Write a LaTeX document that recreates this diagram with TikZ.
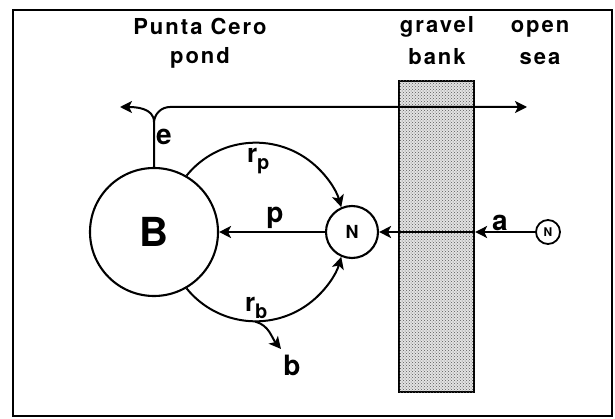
\documentclass[tikz,border=0pt]{standalone}
\usepackage{fontspec}
\setmainfont{TeX Gyre Heros}
\newfontfamily\trackfont[LetterSpace=9]{TeX Gyre Heros}
\usetikzlibrary{arrows.meta, patterns, calc}
\newcommand{\rsub}[1]{r\raisebox{-7pt}{\fontsize{20}{20}\selectfont #1}}

\begin{document}
\begin{tikzpicture}[x=1pt, y=1pt, line width=2pt,
  pool/.style={circle, draw, line width=2.1pt, inner sep=0pt},
  toplbl/.style={anchor=base, inner sep=0pt, font=\trackfont\bfseries\fontsize{22}{26}\selectfont},
  flux/.style={anchor=base, inner sep=0pt, font=\bfseries\fontsize{28}{30}\selectfont},
  rate/.style={anchor=base west, inner sep=0pt, font=\bfseries\fontsize{26}{28}\selectfont},
  arr/.style={-{Stealth[length=12pt, width=12pt, inset=3pt]}, line width=2pt}
]
\useasboundingbox (0,0) rectangle (615,418);
\draw[line width=2.6pt] (13,2) rectangle (612,408);
\node[draw, line width=2.2pt, minimum width=75pt, minimum height=311pt, fill=gray!22,
  postaction={pattern=crosshatch dots, pattern color=gray!70!black}] (bank) at (436.5,181.5) {};
\node[pool, minimum size=128pt, font=\bfseries\fontsize{40}{40}\selectfont] (B) at (154,186) {B};
\node[pool, minimum size=52pt, font=\bfseries\fontsize{18}{20}\selectfont] (N) at (352,186) {N};
\node[pool, minimum size=24pt, line width=1.8pt, font=\bfseries\fontsize{12}{12}\selectfont] (Nsea) at (548,186) {N};
\coordinate (esplit) at (154,296);
\coordinate (eleft) at (120,311);
\coordinate (eright) at (527,311);
\coordinate (bankin) at (bank.east |- Nsea);
\coordinate (rbout) at (255.2,96.4);
\coordinate (bout) at (281,69);
\draw[arr, rounded corners=16pt] (B.north) |- (eright);
\draw[arr] (esplit) to[out=90, in=0] (eleft);
\draw[arr] (B.60) arc[start angle=141, end angle=16, radius=89];
\draw[arr] (B.-60) arc[start angle=-141, end angle=-16, radius=89];
\draw[arr] (N) -- (B);
\draw[arr] (Nsea) -- (bankin);
\draw[arr] (bankin) -- (N);
\draw[arr] (rbout) to[out=-15, in=130] (bout);
\node[flux] (elbl) at (164,273) {e};
\node[flux] (plbl) at (275,196) {p};
\node[flux] (albl) at (500,188) {a};
\node[flux] (blbl) at (292,43) {b};
\node[rate] (rplbl) at (246,255) {\rsub{p}};
\node[rate] (rblbl) at (244,107) {\rsub{b}};
\node[toplbl] (pcero) at (200,383) {Punta Cero};
\node[toplbl] (pond) at (200,354) {pond};
\node[toplbl] (gravel) at (437,385) {gravel};
\node[toplbl] (banklbl) at (437,353) {bank};
\node[toplbl] (open) at (540,385) {open};
\node[toplbl] (sea) at (540,353) {sea};
\end{tikzpicture}
\end{document}
